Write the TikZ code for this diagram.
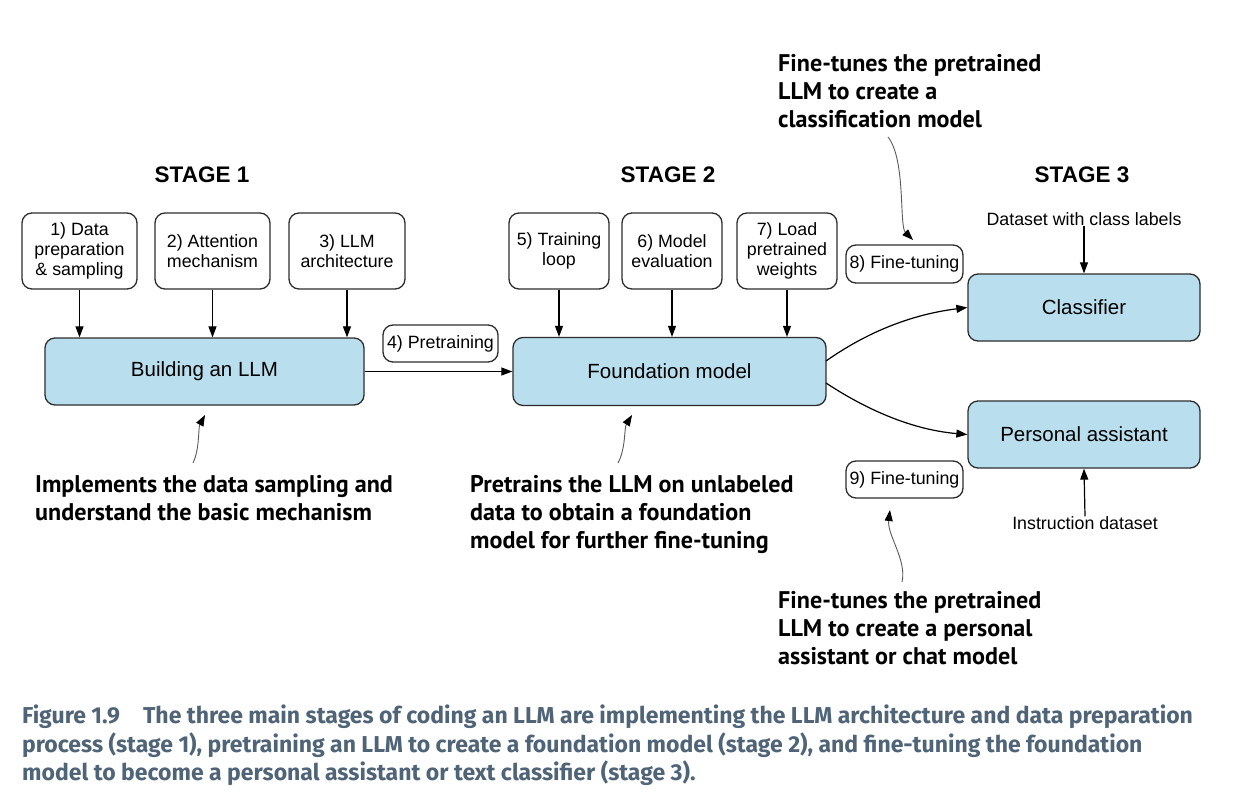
\documentclass[tikz,border=0pt]{standalone}
\usepackage{fontspec}
\setmainfont{Liberation Sans}
\newfontfamily\annfont{PT Sans}
\newfontfamily\capfont{Fira Sans}
\usetikzlibrary{arrows.meta}
\definecolor{boxblue}{RGB}{185,222,238}
\definecolor{boxline}{RGB}{45,45,45}
\definecolor{capcol}{RGB}{80,100,120}
\definecolor{annline}{RGB}{90,90,90}
\begin{document}
\begin{tikzpicture}[x=1pt,y=-1pt,
  box/.style={draw=boxline, line width=1.3pt, rounded corners=10pt, align=center, inner sep=0pt, font=\fontsize{17.8}{20}\selectfont},
  whitebox/.style={box, fill=white},
  bluebox/.style={box, fill=boxblue, font=\fontsize{20.5}{22}\selectfont},
  arr/.style={-{Triangle[length=11pt,width=8pt]}, line width=1.2pt, black},
  annarr/.style={-{Triangle[length=11pt,width=8pt,color=black]}, line width=0.9pt, draw=annline},
  ann/.style={anchor=north west, inner sep=0pt, align=left, font=\annfont\bfseries\fontsize{24.1}{28}\selectfont},
  stage/.style={font=\bfseries\fontsize{22.5}{26}\selectfont, inner sep=0pt},
  plain/.style={font=\fontsize{17.8}{20}\selectfont, inner sep=0pt}]

\useasboundingbox (0,0) rectangle (1237,792);
\fill[white] (0,0) rectangle (1237,792);

% stage titles
\node[stage] (s1) at (202,175) {STAGE 1};
\node[stage] (s2) at (668,175) {STAGE 2};
\node[stage] (s3) at (1082,175) {STAGE 3};

% stage 1
\node[whitebox, minimum width=115pt, minimum height=76pt] (b1) at (79.5,251) {1) Data\\preparation\\\& sampling};
\node[whitebox, minimum width=115pt, minimum height=76pt] (b2) at (212.5,251) {2) Attention\\mechanism};
\node[whitebox, minimum width=116pt, minimum height=76pt] (b3) at (347,251) {3) LLM\\architecture};
\node[bluebox, minimum width=319pt, minimum height=67pt] (build) at (204.5,371.5) {Building an LLM};

\draw[arr] (b1.south) -- (b1.south |- build.north);
\draw[arr] (b2.south) -- (b2.south |- build.north);
\draw[arr] (b3.south) -- (b3.south |- build.north);

% pretraining
\node[whitebox, minimum width=115pt, minimum height=37pt] (pre) at (440.5,343.5) {4) Pretraining};

% stage 2
\node[bluebox, minimum width=313pt, minimum height=68pt] (found) at (669.5,371.5) {Foundation model};
\node[whitebox, minimum width=100pt, minimum height=76pt] (b5) at (559,251) {5) Training\\loop};
\node[whitebox, minimum width=100pt, minimum height=76pt] (b6) at (672,251) {6) Model\\evaluation};
\node[whitebox, minimum width=100pt, minimum height=76pt] (b7) at (787,251) {7) Load\\pretrained\\weights};

\draw[arr] (build.east) -- (found.west);
\draw[arr] (b5.south) -- (b5.south |- found.north);
\draw[arr] (b6.south) -- (b6.south |- found.north);
\draw[arr] (b7.south) -- (b7.south |- found.north);

% stage 3
\node[whitebox, minimum width=117pt, minimum height=38pt] (ft8) at (904.5,264) {8) Fine-tuning};
\node[whitebox, minimum width=117pt, minimum height=37pt] (ft9) at (904.5,479.5) {9) Fine-tuning};
\node[bluebox, minimum width=232pt, minimum height=67pt] (clf) at (1084,307.5) {Classifier};
\node[bluebox, minimum width=232pt, minimum height=67pt] (pa) at (1084,434.5) {Personal assistant};
\node[plain] (dcl) at (1084,219) {Dataset with class labels};
\node[plain] (ids) at (1085,523) {Instruction dataset};

\draw[arr] (dcl.south) -- (clf.north);
\draw[arr] (ids.north) -- (pa.south);

\coordinate (fo1) at (826,361);
\coordinate (fo2) at (826,383);
\draw[arr] (fo1) .. controls (870,330) and (915,314) .. (clf.west);
\draw[arr] (fo2) .. controls (870,412) and (915,430) .. (pa.west);

% annotations
\node[ann] (a1) at (35,475) {Implements the data sampling and\\understand the basic mechanism};
\node[ann] (a2) at (470,475) {Pretrains the LLM on unlabeled\\data to obtain a foundation\\model for further fine-tuning};
\node[ann] (a3) at (778,54) {Fine-tunes the pretrained\\LLM to create a\\classification model};
\node[ann] (a4) at (778,591) {Fine-tunes the pretrained\\LLM to create a personal\\assistant or chat model};

\coordinate (t1) at (193,463);
\coordinate (h1) at (205,415);
\draw[annarr] (t1) .. controls (200,448) and (198,428) .. (h1);
\coordinate (t2) at (618,463);
\coordinate (h2) at (632,415);
\draw[annarr] (t2) .. controls (626,448) and (624,428) .. (h2);
\coordinate (t3) at (888,137);
\coordinate (h3) at (913,240);
\draw[annarr] (t3) .. controls (906,160) and (899,226) .. (h3);
\coordinate (t4) at (902,582);
\coordinate (h4) at (890,510);
\draw[annarr] (t4) .. controls (907,560) and (887,535) .. (h4);

% caption
\node[anchor=north west, inner sep=0pt, align=left, text=capcol,
      font=\capfont\bfseries\fontsize{23}{28.5}\selectfont] (cap) at (22,705)
  {Figure 1.9\quad The three main stages of coding an LLM are implementing the LLM architecture and data preparation\\
   process (stage 1), pretraining an LLM to create a foundation model (stage 2), and fine-tuning the foundation\\
   model to become a personal assistant or text classifier (stage 3).};
\end{tikzpicture}
\end{document}
